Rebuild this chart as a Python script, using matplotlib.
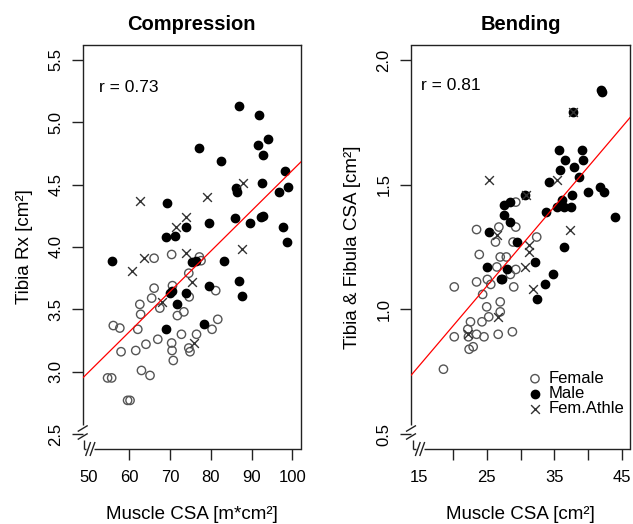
import numpy as np
import matplotlib.pyplot as plt

plt.rcParams['font.family'] = ['Liberation Sans', 'DejaVu Sans']

## compression panel (muscle csa vs tibia rx)
comp_male_x = [86.9, 91.7, 91.5, 94.1, 92.7, 77.0, 82.5, 98.3, 99.0, 96.7, 92.6, 86.2, 86.3,
               69.2, 86.0, 89.6, 92.4, 92.8, 79.6, 73.8, 97.7, 98.7, 69.0, 71.2, 55.9, 75.3,
               76.3, 83.2, 79.5, 86.9, 87.7, 73.8, 70.0, 70.4, 71.8, 78.3, 69.0]
comp_male_y = [5.13, 5.06, 4.82, 4.87, 4.74, 4.79, 4.69, 4.61, 4.48, 4.44, 4.51, 4.47, 4.44,
               4.35, 4.23, 4.19, 4.24, 4.25, 4.19, 4.16, 4.16, 4.04, 4.08, 4.09, 3.89, 3.88,
               3.89, 3.89, 3.69, 3.73, 3.61, 3.63, 3.63, 3.65, 3.54, 3.38, 3.34]
comp_fem_x = [66.1, 70.4, 77.2, 77.6, 74.6, 66.1, 70.6, 65.5, 67.5, 74.7, 81.2, 62.6, 62.8,
              71.8, 73.4, 56.1, 57.7, 62.1, 81.7, 80.3, 76.5, 72.8, 67.0, 64.1, 61.6, 58.0,
              70.4, 70.5, 74.6, 74.9, 70.8, 63.0, 65.1, 54.7, 55.7, 59.6, 60.2]
comp_fem_y = [3.91, 3.94, 3.92, 3.89, 3.79, 3.67, 3.69, 3.59, 3.51, 3.60, 3.65, 3.54, 3.46,
              3.45, 3.48, 3.37, 3.35, 3.34, 3.42, 3.34, 3.30, 3.30, 3.26, 3.22, 3.17, 3.16,
              3.23, 3.17, 3.19, 3.16, 3.09, 3.01, 2.97, 2.95, 2.95, 2.77, 2.77]
comp_ath_x = [62.6, 79.0, 87.9, 73.8, 71.4, 87.6, 63.6, 73.8, 60.8, 75.4, 68.1, 75.9]
comp_ath_y = [4.37, 4.40, 4.51, 4.24, 4.16, 3.98, 3.91, 3.95, 3.81, 3.72, 3.56, 3.23]
comp_fit = (1.375, 0.0324)   # intercept, slope
comp_r = "r = 0.73"

## bending panel (muscle csa vs tibia & fibula csa)
bend_male_x = [41.9, 42.1, 37.7, 35.7, 39.1, 36.6, 39.2, 35.9, 37.9, 38.7, 34.2, 40.0, 41.8,
               42.4, 44.0, 37.6, 36.1, 35.4, 36.4, 37.5, 33.7, 30.7, 27.6, 28.4, 27.5, 28.4,
               25.4, 29.5, 36.5, 32.2, 34.8, 33.6, 32.5, 25.1, 28.0, 27.1, 27.3]
bend_male_y = [1.88, 1.87, 1.79, 1.64, 1.64, 1.60, 1.60, 1.56, 1.57, 1.53, 1.51, 1.47, 1.49,
               1.47, 1.37, 1.46, 1.44, 1.41, 1.41, 1.41, 1.39, 1.46, 1.42, 1.43, 1.38, 1.35,
               1.31, 1.27, 1.25, 1.19, 1.14, 1.10, 1.04, 1.17, 1.16, 1.12, 1.12]
bend_fem_x = [23.5, 26.8, 29.3, 29.3, 32.4, 26.3, 28.9, 23.9, 27.0, 27.9, 26.5, 29.3, 20.2,
              23.5, 25.1, 25.6, 28.5, 29.0, 24.4, 27.0, 25.0, 27.0, 25.3, 22.6, 24.3, 22.2,
              23.5, 24.6, 26.7, 28.8, 20.2, 22.3, 23.0, 22.4, 18.6]
bend_fem_y = [1.32, 1.33, 1.33, 1.43, 1.29, 1.27, 1.27, 1.22, 1.21, 1.21, 1.17, 1.16, 1.09,
              1.11, 1.12, 1.10, 1.14, 1.09, 1.06, 1.03, 1.01, 0.99, 0.97, 0.95, 0.95, 0.92,
              0.90, 0.89, 0.90, 0.91, 0.89, 0.89, 0.85, 0.84, 0.76]
bend_ath_x = [25.3, 35.4, 30.8, 37.3, 37.7, 26.5, 31.2, 31.2, 30.6, 31.8, 26.6, 22.3]
bend_ath_y = [1.52, 1.52, 1.46, 1.32, 1.79, 1.30, 1.26, 1.23, 1.17, 1.08, 0.97, 0.90]
bend_fit = (0.295, 0.0319)
bend_r = "r = 0.81"

W, H = 633, 524
fig = plt.figure(figsize=(W / 100, H / 100), dpi=100)
axL = fig.add_axes([82.7 / W, 1 - 449 / H, 218.3 / W, 404 / H])
axR = fig.add_axes([411 / W, 1 - 449 / H, 219 / W, 404 / H])

ink = '#222222'


def draw_points(ax, fx, fy, mx, my, ax_x, ax_y, fit):
    ax.scatter(fx, fy, s=36, facecolors='none', edgecolors='#555555', linewidths=1.0,
               label='Female', zorder=3)
    ax.scatter(mx, my, s=36, color='black', label='Male', zorder=3)
    ax.scatter(ax_x, ax_y, s=40, marker='x', color='#333333', linewidths=1.0,
               label='Fem.Athle', zorder=3)
    ax.axline((0, fit[0]), slope=fit[1], color='red', lw=0.9, zorder=4)


def breaks(ax, xb_px, yb_px):
    ## hand made axis break like plotrix
    bb = ax.get_position()
    dx = 1 / (bb.width * W)
    dy = 1 / (bb.height * H)
    kw = dict(transform=ax.transAxes, color=ink, lw=1, clip_on=False, solid_capstyle='butt')
    for s in ['left', 'bottom']:
        ax.spines[s].set_visible(False)
    # left spine with gap
    ax.plot([0, 0], [(yb_px + 7.5) * dy, 1], **kw)
    ax.plot([1.5 * dx, 1.5 * dx], [0, (yb_px - 7.5) * dy], **kw)
    for off in (-4, 4):
        yc = yb_px + off
        ax.plot([-5 * dx, 5 * dx], [(yc - 3) * dy, (yc + 3) * dy], **kw)
    # bottom spine with gap
    ax.plot([1.5 * dx, (xb_px - 4) * dx], [0, 0], **kw)
    ax.plot([(xb_px + 4) * dx, 1], [0, 0], **kw)
    for off in (-2.2, 2.2):
        xc = xb_px + off
        ax.plot([(xc - 2.5) * dx, (xc + 2.5) * dx], [-7 * dy, 7 * dy], **kw)


def style(ax):
    for s in ax.spines.values():
        s.set_color(ink)
        s.set_linewidth(1)
    ax.tick_params(which='both', length=8, width=1, color=ink, labelsize=12, pad=6)
    ax.tick_params(axis='x', pad=7)
    for lab in ax.get_yticklabels():
        lab.set_rotation(90)
        lab.set_va('center')


# left panel
draw_points(axL, comp_fem_x, comp_fem_y, comp_male_x, comp_male_y, comp_ath_x, comp_ath_y, comp_fit)
axL.set_xlim(48.6, 102.1)
axL.set_ylim(2.38, 5.62)
axL.set_xticks([50, 60, 70, 80, 90, 100])
axL.set_yticks([2.5, 3.0, 3.5, 4.0, 4.5, 5.0, 5.5])
axL.set_yticklabels(['2.5', '3.0', '3.5', '4.0', '4.5', '5.0', '5.5'])
style(axL)
axL.xaxis.get_major_ticks()[0].tick1line.set_visible(False)
axL.set_title('Compression', fontsize=14.5, fontweight='bold', pad=11)
axL.set_xlabel('Muscle CSA [m*cm²]', fontsize=13.5, labelpad=15)
axL.set_ylabel('Tibia Rx [cm²]', fontsize=13.5, labelpad=11)
axL.text(0.073, 0.894, comp_r, transform=axL.transAxes, fontsize=12.5, va='center')
breaks(axL, 7.6, 16.5)

# right panel
draw_points(axR, bend_fem_x, bend_fem_y, bend_male_x, bend_male_y, bend_ath_x, bend_ath_y, bend_fit)
axR.set_xlim(13.8, 46.2)
axR.set_ylim(0.44, 2.06)
axR.set_xticks([15, 25, 35, 45])
axR.set_xticks([20, 30, 40], minor=True)
axR.set_yticks([0.5, 1.0, 1.5, 2.0])
axR.set_yticklabels(['0.5', '1.0', '1.5', '2.0'])
style(axR)
axR.xaxis.get_major_ticks()[0].tick1line.set_visible(False)
axR.set_title('Bending', fontsize=14.5, fontweight='bold', pad=11)
axR.set_xlabel('Muscle CSA [cm²]', fontsize=13.5, labelpad=15)
axR.set_ylabel('Tibia & Fibula CSA [cm²]', fontsize=13.5, labelpad=11)
axR.text(0.047, 0.899, bend_r, transform=axR.transAxes, fontsize=12.5, va='center')
axR.legend(loc='lower left', bbox_to_anchor=(0.49, 0.065), frameon=False, fontsize=12,
           handletextpad=0.2, labelspacing=0.0, borderaxespad=0, handlelength=1.2,
           scatterpoints=1)
breaks(axR, 9, 16.5)

plt.savefig('out.png', dpi=100)
